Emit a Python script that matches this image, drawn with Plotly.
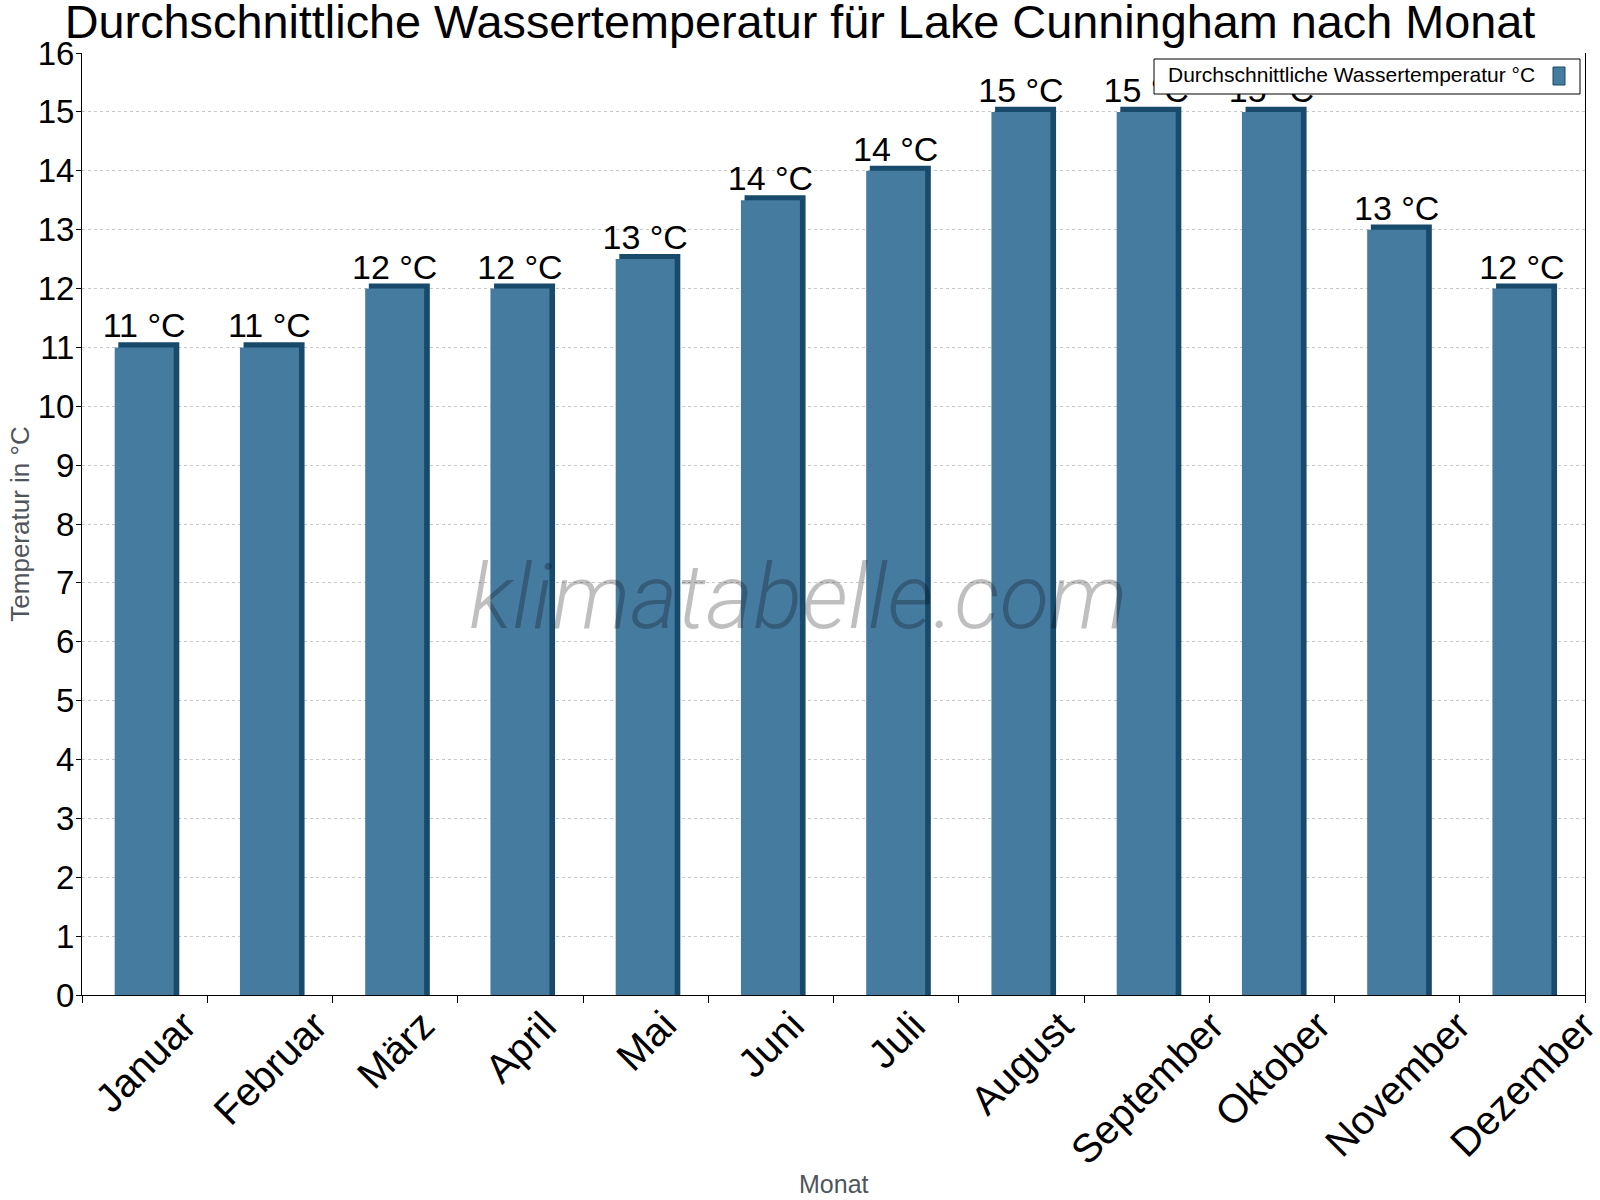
import math
import plotly.graph_objects as go

# ---- data ----
months = ["Januar", "Februar", "März", "April", "Mai", "Juni",
          "Juli", "August", "September", "Oktober", "November", "Dezember"]
water_temp = [11, 11, 12, 12, 12.5, 13.5, 14, 15, 15, 15, 13, 12]
series_name = "Durchschnittliche Wassertemperatur °C"
y_ticks = list(range(0, 17))

title_text = "Durchschnittliche Wassertemperatur für Lake Cunningham nach Monat"
x_title = "Monat"
y_title = "Temperatur in °C"
watermark = "klimatabelle.com"

# ---- styles ----
FONT = "Liberation Sans, Arial, sans-serif"
FACE = "#467ba0"
SIDE = "#174a6b"
AXIS_TITLE_COLOR = "#50555c"
TOP_DEPTH = 0.085  # depth of the 3D top in axis units

labels = [f"{math.floor(v + 0.5)} °C" for v in water_temp]
side_vals = [v + TOP_DEPTH for v in water_temp]

fig = go.Figure()

# dark "3D" side / top of each bar
fig.add_trace(go.Bar(
    x=months, y=side_vals, width=0.487, offset=-0.21,
    marker=dict(color=SIDE, line=dict(width=0)),
    showlegend=False, hoverinfo="skip",
))
# front face of each bar (carries the value label)
fig.add_trace(go.Bar(
    x=months, y=water_temp, width=0.471, offset=-0.239,
    marker=dict(color=FACE, line=dict(width=0)),
    text=labels, textposition="outside", constraintext="none",
    textfont=dict(size=34, color="black", family=FONT),
    cliponaxis=False, name=series_name, showlegend=False,
))

fig.update_layout(
    template="none",
    width=1600, height=1200,
    margin=dict(l=82, r=15, t=53, b=205, autoexpand=False),
    paper_bgcolor="white", plot_bgcolor="white",
    barmode="overlay",
    font=dict(family=FONT, color="black"),
    showlegend=False,
    title=dict(text=title_text, x=0.5, xref="container", xanchor="center",
               y=0.982, yref="container", yanchor="middle",
               font=dict(size=46.8, color="black", family=FONT)),
    xaxis=dict(
        type="category", categoryorder="array", categoryarray=months,
        range=[-0.5, len(months) - 0.5], autorange=False,
        showline=True, linecolor="black", linewidth=1,
        ticks="outside", tickson="boundaries", ticklen=7, tickcolor="black",
        showticklabels=False, showgrid=False, automargin=False,
    ),
    yaxis=dict(
        range=[0, 16], autorange=False,
        tickvals=y_ticks, ticktext=[str(t) for t in y_ticks],
        showline=True, mirror=True, linecolor="black", linewidth=1,
        ticks="outside", ticklen=5, tickcolor="black",
        tickfont=dict(size=33, color="black", family=FONT),
        ticklabelstandoff=-5,
        showgrid=True, gridcolor="#c8c8c8", griddash="dot", gridwidth=1,
        zeroline=False, automargin=False,
        title=dict(text=y_title, font=dict(size=26, color=AXIS_TITLE_COLOR, family=FONT), standoff=0),
    ),
)

# rotated month labels, centred under each category
for m in months:
    fig.add_annotation(text=m, xref="x", yref="paper", x=m, y=0,
                       xanchor="center", yanchor="top", yshift=-5,
                       textangle=-45, showarrow=False,
                       font=dict(size=40, color="black", family=FONT))

# x-axis title
fig.add_annotation(text=x_title, xref="paper", yref="paper", x=0.5, y=0,
                   xanchor="center", yanchor="middle", yshift=-189,
                   showarrow=False,
                   font=dict(size=25, color=AXIS_TITLE_COLOR, family=FONT))

# legend box (drawn above bars)
fig.add_shape(type="rect", xref="paper", yref="paper",
              xsizemode="pixel", ysizemode="pixel",
              xanchor=1, yanchor=1, x0=-431, x1=-5, y0=-6, y1=-41,
              fillcolor="white", line=dict(color="black", width=1), layer="above")
fig.add_shape(type="rect", xref="paper", yref="paper",
              xsizemode="pixel", ysizemode="pixel",
              xanchor=1, yanchor=1, x0=-32, x1=-20, y0=-14, y1=-32,
              fillcolor=FACE, line=dict(color=SIDE, width=1), layer="above")
fig.add_annotation(text=series_name, xref="paper", yref="paper", x=1, y=1,
                   xanchor="left", yanchor="middle", xshift=-419, yshift=-21.5,
                   showarrow=False, font=dict(size=21, color="black", family=FONT))

# watermark
fig.add_annotation(text=watermark, xref="paper", yref="paper", x=0.4765, y=0.4225,
                   xanchor="center", yanchor="middle", showarrow=False,
                   font=dict(size=91, color="rgba(0,0,0,0.25)", family="Roboto",
                             style="italic", weight=300))

fig.write_html("out.html")
